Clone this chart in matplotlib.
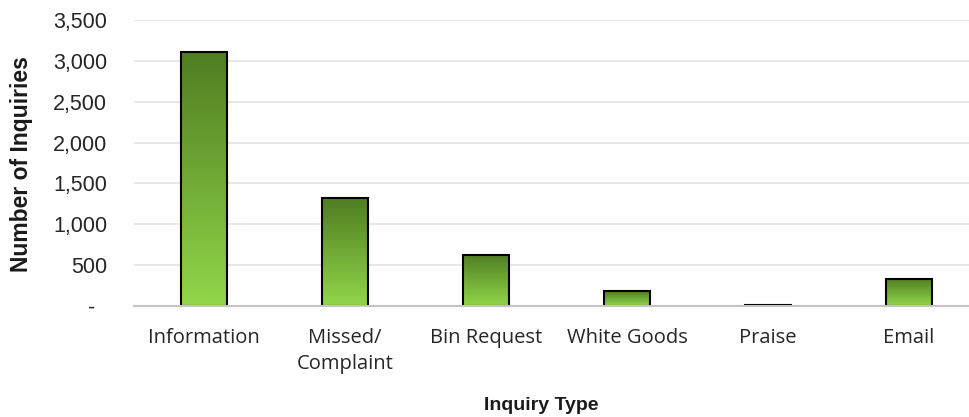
import numpy as np
import matplotlib
matplotlib.use('Agg')
import matplotlib.pyplot as plt
from matplotlib.colors import LinearSegmentedColormap
from matplotlib.ticker import FuncFormatter

categories = ["Information", "Missed/\nComplaint", "Bin Request", "White Goods", "Praise", "Email"]
inquiries = [3110, 1320, 625, 183, 8, 334]
y_ticks = [0, 500, 1000, 1500, 2000, 2500, 3000, 3500]

DARK = "#4f7d22"
LIGHT = "#92d64a"
GRID = "#e6e6e6"
BASE = "#c4c4c4"

fig = plt.figure(figsize=(9.69, 4.17), dpi=100)
ax = fig.add_axes([133.5 / 969, 1 - 306 / 417, 846 / 969, 286 / 417])

x = np.arange(len(categories))
bars = ax.bar(x, inquiries, width=0.32, facecolor="none", edgecolor="black",
              linewidth=1.5, zorder=3)

# vertical gradient inside each bar, dark at the top, light at the base
cmap = LinearSegmentedColormap.from_list("grn", [LIGHT, DARK])
grad = np.linspace(0, 1, 256).reshape(-1, 1)
for b in bars:
    x0, y0 = b.get_x(), b.get_y()
    w, h = b.get_width(), b.get_height()
    im = ax.imshow(grad, cmap=cmap, origin="lower", aspect="auto",
                   extent=(x0, x0 + w, y0, y0 + h), zorder=2)
    im.set_clip_path(b)

ax.set_xlim(-0.5, len(categories) - 0.5)
ax.set_ylim(0, 3500)
ax.set_yticks(y_ticks)
# accounting style: zero shown as a dash
ax.yaxis.set_major_formatter(FuncFormatter(lambda v, p: "-  " if v == 0 else f"{v:,.0f}"))
ax.set_xticks(x)
ax.set_xticklabels(categories, fontsize=14.5, family="Open Sans", linespacing=1.4)

for t in ax.get_yticklabels():
    t.set_fontsize(15.5)
    t.set_family("Liberation Sans")

ax.tick_params(axis="both", length=0, colors="#262626")
ax.tick_params(axis="x", pad=16)
ax.tick_params(axis="y", pad=19)

for s in ["top", "right", "left"]:
    ax.spines[s].set_visible(False)
ax.spines["bottom"].set_color(BASE)
ax.spines["bottom"].set_linewidth(1.5)
ax.spines["bottom"].set_zorder(4)

ax.yaxis.grid(True, color=GRID, linewidth=1.3, zorder=0)
ax.set_axisbelow(True)

fig.text(22 / 969, 1 - 164 / 417, "Number of Inquiries", rotation=90,
         ha="center", va="center", fontsize=16.5, fontweight="bold",
         family="Liberation Sans", color="#1a1a1a")
fig.text(541 / 969, 1 - 405 / 417, "Inquiry Type", ha="center", va="center",
         fontsize=14, fontweight="bold", family="Liberation Sans", color="#1a1a1a")

fig.savefig("out.png", dpi=100, facecolor="white")
